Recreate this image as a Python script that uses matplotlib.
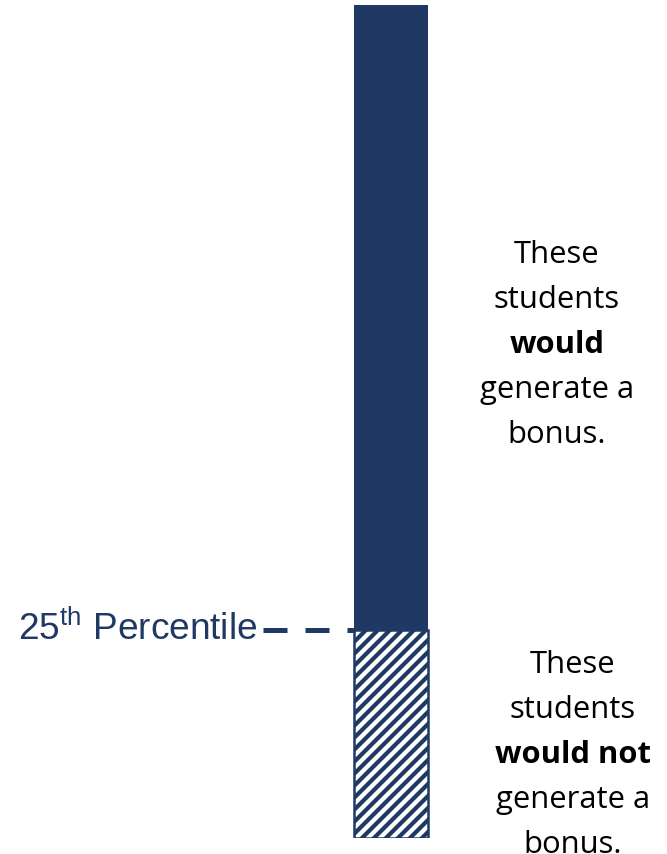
import matplotlib
matplotlib.use("Agg")
import matplotlib.pyplot as plt

# data: one stacked bar of students, split at the 25th percentile
segments = ["below", "above"]
shares = [25, 75]
cutoff = 25
cutoff_label = "25$^{\\mathrm{th}}$ Percentile"
above_text = ["These", "students", "would", "generate a", "bonus."]
below_text = ["These", "students", "would not", "generate a", "bonus."]

navy = "#203864"
plt.rcParams["mathtext.fontset"] = "custom"
plt.rcParams["mathtext.rm"] = "Liberation Sans"
plt.rcParams["hatch.linewidth"] = 4.2

dpi = 72
fig = plt.figure(figsize=(667 / dpi, 854 / dpi), dpi=dpi)
ax = fig.add_axes([0, 16 / 854, 1, 833 / 854])
ax.set_xlim(0, 667)
ax.set_ylim(0, 100)
ax.axis("off")

# hatched lower segment, solid upper segment
ax.bar(391, shares[0], width=74, bottom=0, color="white", edgecolor=navy,
       hatch="//", linewidth=2.5)
ax.bar(391, shares[1], width=74, bottom=shares[0], color=navy,
       edgecolor=navy, linewidth=0)

ax.plot([263, 355], [cutoff, cutoff], color=navy, lw=5,
        linestyle=(0, (4.8, 3.6)), solid_capstyle="butt")
ax.text(257, cutoff + 0.1, cutoff_label, ha="right", va="center",
        fontsize=37, color=navy, family="Liberation Sans")

def block(lines, x, y0, bold_idx):
    for i, s in enumerate(lines):
        ax.text(x, y0 - i * 5.4, s, ha="center", va="center", fontsize=31,
                family="Open Sans", fontweight="bold" if i == bold_idx else "normal",
                color="black")

block(above_text, 557, 70.0, 2)
block(below_text, 573, 20.8, 2)

fig.savefig("out.png", dpi=dpi)
